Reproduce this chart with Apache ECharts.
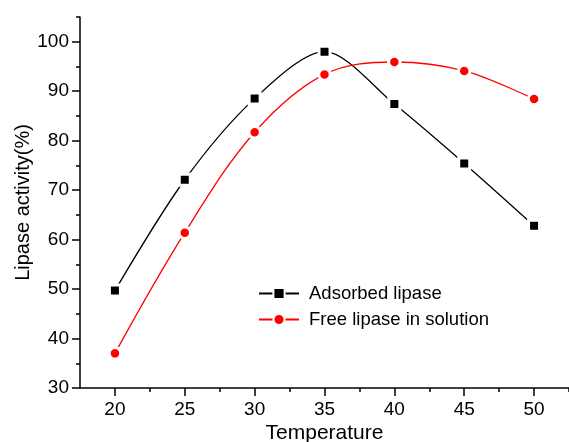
<!DOCTYPE html>
<html>
<head>
<meta charset="utf-8">
<script src="https://cdn.jsdelivr.net/npm/echarts@6/dist/echarts.min.js"></script>
<style>html,body{margin:0;padding:0;background:#fff;}#c{width:569px;height:442px;}</style>
</head>
<body>
<div id="c"></div>
<script>
const temperatures = [20, 25, 30, 35, 40, 45, 50];
const adsorbed = [49.7, 72.1, 88.5, 98.0, 87.4, 75.4, 62.8];
const freeLipase = [37.0, 61.4, 81.7, 93.4, 95.9, 94.1, 88.4];
const xMajorTicks = [20, 25, 30, 35, 40, 45, 50];
const xMinorTicks = [22.5, 27.5, 32.5, 37.5, 42.5, 47.5, 52.5];
const yMajorTicks = [30, 40, 50, 60, 70, 80, 90, 100];
const yMinorTicks = [35, 45, 55, 65, 75, 85, 95, 105];
const seriesNames = ['Adsorbed lipase', 'Free lipase in solution'];

const font = 'Liberation Sans, Arial, sans-serif';
const chart = echarts.init(document.getElementById('c'), null, {renderer: 'canvas'});
const axisLine = {show: true, lineStyle: {color: '#000', width: 1.5}};
const pairs = arr => temperatures.map((t, i) => [t, arr[i]]);

chart.setOption({
  animation: false,
  backgroundColor: '#fff',
  grid: {left: 80, right: 0, top: 17, bottom: 54, containLabel: false, outerBoundsMode: 'none'},
  legend: {
    orient: 'vertical', left: 258, top: 284, padding: 0, itemWidth: 40, itemHeight: 14, itemGap: 7,
    textStyle: {fontFamily: font, fontSize: 18.5, color: '#000', lineHeight: 19, padding: [0, 0, 0, 5]},
    data: seriesNames
  },
  xAxis: [{
    type: 'value', min: 17.5, max: 52.5, gridIndex: 0,
    name: 'Temperature', nameLocation: 'middle', nameGap: 35, nameMoveOverlap: false,
    nameTextStyle: {fontFamily: font, fontSize: 21, color: '#000'},
    axisLine: axisLine,
    axisTick: {show: true, inside: false, length: 8, lineStyle: {color: '#000', width: 1.5}, customValues: xMajorTicks},
    axisLabel: {fontFamily: font, fontSize: 19, color: '#000', margin: 12, customValues: xMajorTicks},
    splitLine: {show: false}
  }, {
    type: 'value', min: 17.5, max: 52.5, gridIndex: 0, position: 'bottom',
    axisLine: {show: false},
    axisTick: {show: true, length: 4, lineStyle: {color: '#000', width: 1.5}, customValues: xMinorTicks},
    axisLabel: {show: false}, splitLine: {show: false}
  }],
  yAxis: [{
    type: 'value', min: 30, max: 105, gridIndex: 0,
    name: 'Lipase activity(%)', nameLocation: 'middle', nameGap: 47, nameMoveOverlap: false,
    nameTextStyle: {fontFamily: font, fontSize: 20, color: '#000'},
    axisLine: axisLine,
    axisTick: {show: true, inside: false, length: 8, lineStyle: {color: '#000', width: 1.5}, customValues: yMajorTicks},
    axisLabel: {fontFamily: font, fontSize: 19, color: '#000', margin: 11, customValues: yMajorTicks},
    splitLine: {show: false}
  }, {
    type: 'value', min: 30, max: 105, gridIndex: 0, position: 'left', offset: 0,
    axisLine: {show: false},
    axisTick: {show: true, length: 4, lineStyle: {color: '#000', width: 1.5}, customValues: yMinorTicks},
    axisLabel: {show: false}, splitLine: {show: false}
  }],
  series: [{
    name: seriesNames[0], type: 'line', smooth: 0.3, data: pairs(adsorbed),
    xAxisIndex: 0, yAxisIndex: 0,
    symbol: 'rect', symbolSize: 11,
    lineStyle: {color: '#000', width: 1.3},
    itemStyle: {color: '#000', borderColor: '#fff', borderWidth: 3}
  }, {
    name: seriesNames[1], type: 'line', smooth: 0.35, data: pairs(freeLipase),
    xAxisIndex: 0, yAxisIndex: 0,
    symbol: 'circle', symbolSize: 11.5,
    lineStyle: {color: '#ff0000', width: 1.3},
    itemStyle: {color: '#ff0000', borderColor: '#fff', borderWidth: 3}
  }]
});
</script>
</body>
</html>
